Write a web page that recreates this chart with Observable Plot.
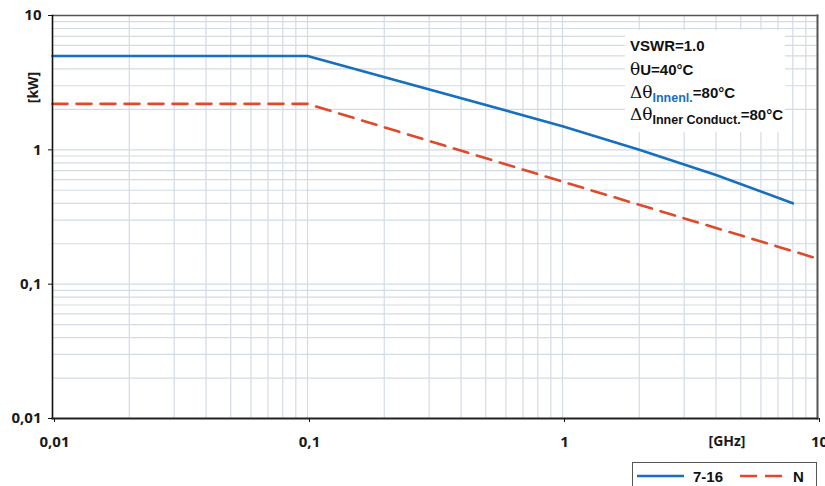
<!DOCTYPE html>
<html>
<head>
<meta charset="utf-8">
<script src="https://cdn.jsdelivr.net/npm/d3@7"></script>
<script src="https://cdn.jsdelivr.net/npm/@observablehq/plot@0.6"></script>
<style>
  html, body { margin: 0; padding: 0; background: #fff; overflow: hidden; }
  #wrap { position: relative; width: 825px; height: 486px; overflow: hidden; }
  #wrap svg text { font-weight: bold; fill: #1a1a1a; }
  .box { position: absolute; left: 625px; top: 30px; width: 160px; height: 102px; background: #fff;
         font-family: "Liberation Sans", Arial, sans-serif; font-weight: bold; font-size: 15px; color: #111; }
  .ln { position: absolute; left: 5px; white-space: nowrap; }
  .gr { font-family: "DejaVu Serif", "Liberation Serif", serif; font-weight: normal; font-size: 17px; }
  .sub { font-size: 12.5px; position: relative; top: 4px; }
  .legend { position: absolute; left: 632px; top: 462px; width: 183px; height: 40px; border: 1.5px solid #555;
            background: #fff; font-family: "Liberation Sans", Arial, sans-serif; font-weight: bold; font-size: 15px; color: #111; }
  .legend span { position: absolute; top: 5px; }
  .legend svg { position: absolute; left: 0; top: 0; }
</style>
</head>
<body>
<div id="wrap"></div>
<script>
// Data
const freq716 = [0.01, 0.1, 1, 2, 4, 8];          // GHz
const power716 = [5, 5, 1.5, 1.0, 0.65, 0.40];    // kW
const freqN = [0.01, 0.1, 1, 10];                 // GHz
const powerN = [2.2, 2.2, 0.58, 0.155];           // kW

const xTicks = [0.01, 0.1, 1, 10];
const xTickLabels = ["0,01", "0,1", "1", "10"];
const yTicks = [0.01, 0.1, 1, 10];
const yTickLabels = ["0,01", "0,1", "1", "10"];

const s716 = freq716.map((f, i) => ({f, p: power716[i]}));
const sN = freqN.map((f, i) => ({f, p: powerN[i]}));

// minor grid positions (1..9 per decade)
const gridVals = [];
for (const d of [0.01, 0.1, 1]) for (let k = 1; k <= 9; k++) gridVals.push(+(k * d).toPrecision(3));
gridVals.push(10);

const blue = "#1670bf";
const red = "#e0492a";

const chart = Plot.plot({
  width: 825,
  height: 486,
  marginLeft: 52,
  marginRight: 8,
  marginTop: 15,
  marginBottom: 68,
  style: {fontFamily: "'Open Sans', sans-serif", fontSize: "15px", background: "#fff"},
  x: {type: "log", domain: [0.01, 10]},
  y: {type: "log", domain: [0.01, 10]},
  marks: [
    Plot.ruleX(gridVals, {stroke: "#d3dbe6", strokeWidth: 1.2}),
    Plot.ruleY(gridVals, {stroke: "#d3dbe6", strokeWidth: 1.2}),
    Plot.frame({anchor: "top", stroke: "#555", strokeWidth: 1.5}),
    Plot.frame({anchor: "right", stroke: "#555", strokeWidth: 2}),
    Plot.line(s716, {x: "f", y: "p", stroke: blue, strokeWidth: 2.6}),
    Plot.line(sN, {x: "f", y: "p", stroke: red, strokeWidth: 2.6, strokeDasharray: "15,9"}),
    Plot.frame({anchor: "left", stroke: "#111", strokeWidth: 1.6}),
    Plot.frame({anchor: "bottom", stroke: "#222", strokeWidth: 2}),
    Plot.axisY(yTicks, {anchor: "left", tickSize: 4, tickPadding: 7, label: null,
      tickFormat: d => yTickLabels[yTicks.indexOf(d)], stroke: "#111"}),
    Plot.axisX(xTicks, {anchor: "bottom", tickSize: 4, tickPadding: 14, label: null, dx: 2,
      tickFormat: d => xTickLabels[xTicks.indexOf(d)], stroke: "#111"}),
    Plot.text(["[GHz]"], {frameAnchor: "bottom-right", text: d => d, dx: -72, dy: 23,
      textAnchor: "end", lineAnchor: "middle", fontSize: 14}),
    Plot.text(["[kW]"], {frameAnchor: "top-left", text: d => d, dx: -19, dy: 72, rotate: -90,
      textAnchor: "middle", lineAnchor: "middle", fontSize: 14})
  ]
});
document.getElementById("wrap").appendChild(chart);

// annotation box
const box = document.createElement("div");
box.className = "box";
box.innerHTML = `
  <div class="ln" style="top:7px">VSWR=1.0</div>
  <div class="ln" style="top:29px"><span class="gr">θ</span>U=40°C</div>
  <div class="ln" style="top:52px"><span class="gr">Δθ</span><span class="sub" style="color:${blue}">Innenl.</span>=80°C</div>
  <div class="ln" style="top:74px"><span class="gr">Δθ</span><span class="sub">Inner Conduct.</span>=80°C</div>`;
document.getElementById("wrap").appendChild(box);

// legend
const lg = document.createElement("div");
lg.className = "legend";
lg.innerHTML = `
  <svg width="183" height="30">
    <line x1="4" x2="51" y1="13" y2="13" stroke="${blue}" stroke-width="2.6"/>
    <line x1="107" x2="151" y1="13" y2="13" stroke="${red}" stroke-width="2.6" stroke-dasharray="17,8"/>
  </svg>
  <span style="left:60px">7-16</span>
  <span style="left:160px">N</span>`;
document.getElementById("wrap").appendChild(lg);
</script>
</body>
</html>
